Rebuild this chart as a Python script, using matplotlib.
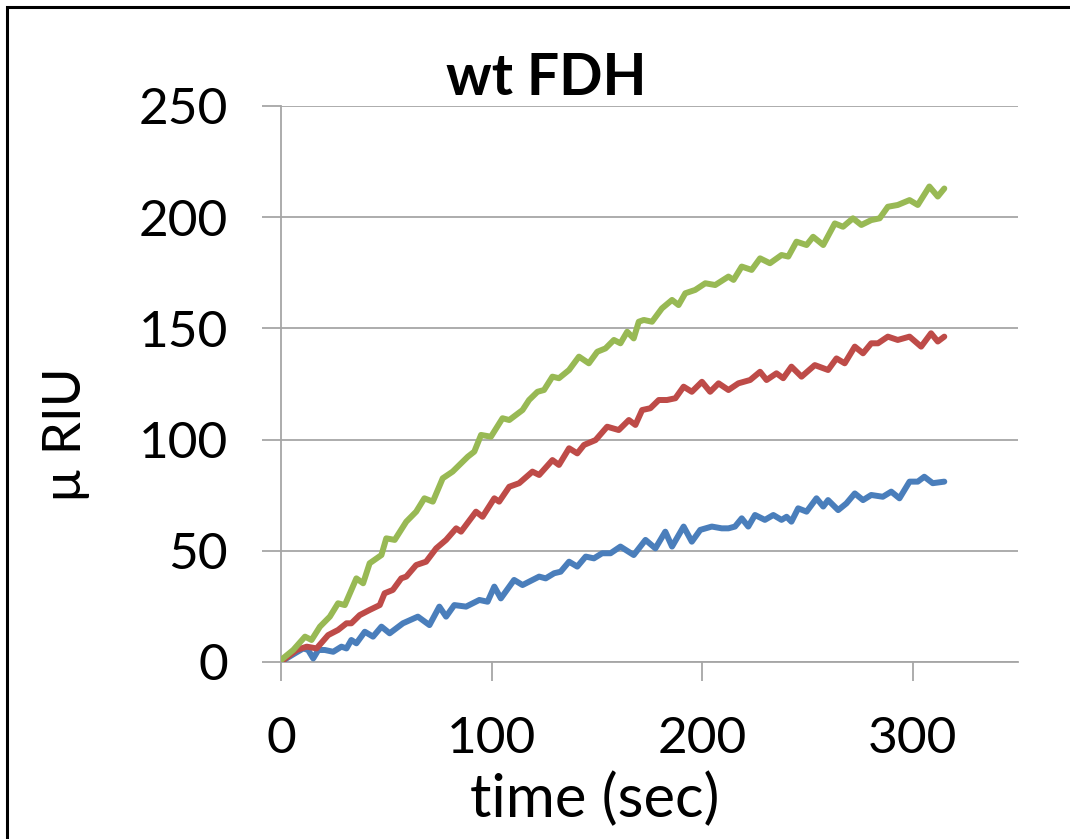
import matplotlib
matplotlib.use("Agg")
import matplotlib.pyplot as plt
from matplotlib.patches import Rectangle

# ---------------- data ----------------
green_t = [0, 5.8, 11.4, 14.5, 18.5, 23.2, 27.1, 30.3, 35.8, 39.0, 42.1, 47.7, 50.0, 54.0, 59.5,
           64.2, 68.1, 72.1, 76.8, 81.5, 88.7, 91.8, 95.0, 99.7, 105.2, 108.4, 114.7, 117.8, 121.8,
           124.9, 128.9, 132.0, 136.8, 141.5, 146.2, 150.2, 154.1, 158.1, 161.2, 164.4, 167.5, 169.9,
           172.3, 176.2, 180.9, 185.7, 188.8, 192.0, 196.7, 201.5, 206.2, 212.5, 214.9, 218.8, 223.5,
           227.5, 232.2, 237.7, 240.9, 244.8, 249.6, 252.7, 257.5, 263.0, 266.9, 271.6, 275.6, 280.3,
           284.3, 288.2, 292.9, 298.5, 302.4, 307.9, 311.9, 315.0]
green_y = [0.9, 5.4, 11.4, 9.9, 15.9, 20.4, 26.4, 25.6, 37.6, 35.4, 44.4, 48.1, 55.6, 54.9, 63.1,
           67.6, 73.6, 72.1, 82.6, 85.6, 92.3, 94.6, 102.1, 101.3, 109.6, 108.8, 113.3, 117.8, 121.5,
           122.3, 128.3, 127.6, 131.3, 137.3, 134.3, 139.5, 141.0, 144.8, 143.3, 148.5, 145.5, 153.0,
           153.8, 153.0, 159.0, 162.8, 160.5, 165.8, 167.3, 170.3, 169.5, 173.3, 171.8, 177.8, 176.3,
           181.5, 179.3, 183.0, 182.3, 189.0, 187.5, 191.2, 187.5, 197.2, 195.7, 199.5, 196.5, 198.7,
           199.5, 204.7, 205.5, 207.7, 205.5, 213.8, 209.3, 212.9]

red_t = [0, 7.4, 12.2, 16.9, 22.4, 27.1, 31.1, 33.4, 37.4, 42.1, 46.9, 49.2, 53.1, 57.1, 59.5,
         64.2, 68.9, 73.7, 78.4, 83.2, 85.5, 92.6, 95.7, 101.3, 103.6, 108.4, 113.1, 119.4, 122.6,
         128.9, 132.0, 136.8, 140.7, 143.9, 149.4, 154.9, 160.4, 165.2, 168.3, 171.5, 175.4, 179.4,
         183.3, 187.3, 191.2, 195.1, 199.9, 203.8, 207.8, 212.5, 217.2, 222.8, 227.5, 230.6, 235.3,
         238.5, 242.4, 247.2, 253.5, 259.8, 263.8, 267.7, 272.5, 276.4, 280.3, 283.5, 288.2, 292.9,
         298.5, 304.0, 308.7, 311.9, 315.0]
red_y = [0.1, 5.4, 6.9, 6.1, 12.1, 14.4, 17.4, 17.4, 21.1, 23.4, 25.6, 30.9, 32.4, 37.6, 38.4,
         43.6, 45.1, 51.1, 54.9, 60.1, 58.6, 67.6, 65.3, 73.6, 72.1, 78.8, 80.4, 85.6, 84.1,
         90.8, 88.6, 96.1, 93.8, 97.6, 99.8, 105.8, 104.3, 108.8, 106.6, 113.3, 114.1, 117.8,
         117.8, 118.6, 123.8, 121.5, 126.0, 121.5, 125.3, 122.3, 125.3, 126.8, 130.5, 126.8, 129.8,
         127.6, 132.8, 128.3, 133.5, 131.3, 136.5, 134.3, 141.8, 138.8, 143.3, 143.3, 146.3, 144.8,
         146.3, 141.8, 147.8, 144.1, 146.3]

blue_t = [0, 6.6, 10.6, 12.9, 15.3, 17.7, 20.8, 24.8, 28.7, 31.1, 33.4, 35.8, 39.8, 43.7, 47.7,
          51.6, 57.9, 65.0, 70.5, 75.2, 78.4, 82.3, 87.9, 94.2, 98.1, 101.3, 104.4, 110.7, 114.7,
          117.8, 122.6, 125.7, 129.7, 132.8, 136.8, 140.7, 144.7, 148.6, 152.5, 156.5, 161.2, 167.5,
          173.1, 177.8, 182.5, 185.7, 191.2, 195.1, 199.1, 204.6, 209.3, 212.5, 215.6, 218.8, 221.9,
          225.1, 229.8, 233.8, 237.7, 240.1, 242.4, 245.6, 249.6, 254.3, 257.5, 259.8, 264.6, 268.5,
          272.5, 276.4, 280.3, 285.8, 289.8, 293.7, 298.5, 302.4, 305.5, 309.5, 315.0]
blue_y = [0.1, 3.9, 6.1, 5.4, 1.6, 5.4, 5.4, 4.6, 6.9, 6.1, 9.9, 8.4, 13.6, 11.4, 15.9,
          12.9, 17.4, 20.4, 16.6, 24.9, 20.4, 25.6, 24.9, 27.9, 27.1, 33.9, 28.6, 36.9, 34.6,
          36.1, 38.4, 37.6, 39.9, 40.6, 45.1, 42.9, 47.4, 46.6, 48.9, 48.9, 51.9, 48.1,
          54.9, 51.1, 58.6, 51.9, 60.9, 54.1, 59.4, 60.9, 60.1, 60.1, 60.9, 64.6, 60.9,
          66.1, 63.9, 66.1, 63.9, 65.3, 63.1, 69.1, 67.6, 73.6, 69.9, 72.8, 68.3, 71.3,
          75.8, 72.8, 75.1, 74.3, 76.6, 73.6, 81.1, 81.1, 83.3, 80.4, 81.1]

x_ticks = [0, 100, 200, 300]
y_ticks = [0, 50, 100, 150, 200, 250]
title = "wt FDH"
x_label = "time (sec)"
y_label = "\u00b5 RIU"

# ---------------- figure ----------------
W, H = 1070, 839
plt.rcParams['font.family'] = ['Lato', 'DejaVu Sans']
fig = plt.figure(figsize=(W / 100, H / 100), dpi=100)
fig.patch.set_facecolor('white')

ax = fig.add_axes([281 / W, 1 - 662 / H, (1018 - 281) / W, (662 - 106) / H])
grid_c = '#A6A6A6'

line_kw = dict(lw=4.3, solid_joinstyle='round', solid_capstyle='round', zorder=3)
ax.plot(blue_t, blue_y, color='#4A7EBB', **line_kw)
ax.plot(red_t, red_y, color='#BE4B48', **line_kw)
ax.plot(green_t, green_y, color='#98B954', **line_kw)

ax.set_xlim(0, 350)
ax.set_ylim(0, 250)
ax.set_xticks(x_ticks)
ax.set_yticks(y_ticks)
ax.yaxis.grid(True, color=grid_c, lw=1.3)
ax.set_axisbelow(True)
for s in ['top', 'right']:
    ax.spines[s].set_visible(False)
for s in ['left', 'bottom']:
    ax.spines[s].set_color(grid_c)
    ax.spines[s].set_linewidth(1.3)
ax.tick_params(axis='both', direction='out', length=14, width=1.3, color=grid_c,
               labelsize=37, labelcolor='black')
ax.tick_params(axis='y', pad=24)
ax.tick_params(axis='x', pad=25)

fig.text(546 / W, 1 - 95 / H, title, ha='center', va='baseline', fontsize=41,
         fontweight='bold', color='black')
fig.text(595 / W, 1 - 817 / H, x_label, ha='center', va='baseline', fontsize=43, color='black')
fig.text(67 / W, 1 - 435 / H, y_label, ha='center', va='center', rotation=90,
         fontsize=38, color='black')

frame = Rectangle((7 / W, -0.1), 1.2, 1 - 7 / H + 0.1, transform=fig.transFigure,
                  fill=False, edgecolor='black', lw=2.2, clip_on=False)
fig.add_artist(frame)

fig.savefig('out.png', dpi=100)
